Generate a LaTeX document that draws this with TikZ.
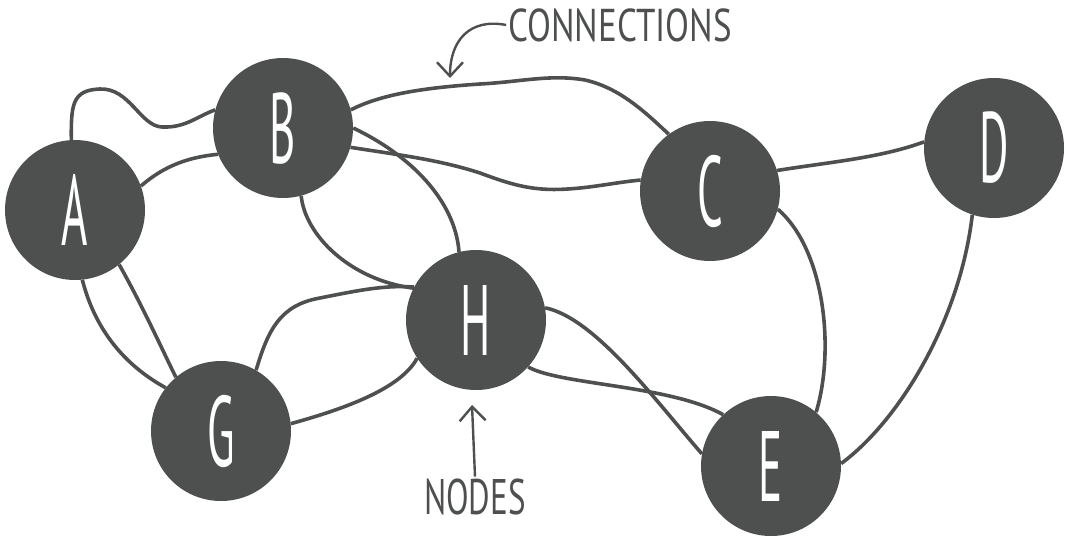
\documentclass[tikz,border=0pt]{standalone}
\usepackage{fontspec}
\setmainfont{PT Sans}
\usepackage{tikz}
\usetikzlibrary{arrows.meta}
\definecolor{NetGray}{RGB}{78, 80, 79}

\begin{document}
\begin{tikzpicture}[x=1pt, y=-1pt,
    netnode/.style={circle, fill=NetGray, minimum size=140pt, inner sep=0pt,
        text=white, font=\fontsize{100}{100}\selectfont},
    link/.style={NetGray, line width=3.6pt},
    note/.style={text=NetGray, inner sep=2pt},
    pointer/.style={NetGray, line width=2.4pt, -{Straight Barb[length=14pt, width=26pt, line width=2.4pt]}}]
        \useasboundingbox (0,0) rectangle (1066,538);

        % Nodes
        \foreach \n/\x/\y in {A/75/210, B/283/128, C/710/191, D/994/148,
                              H/476/320, G/221/431, E/771/466}
            \node[netnode] (\n) at (\x,\y) {\scalebox{0.45}[1]{\n}};

        % Connections
        \draw[link] (A.93) .. controls (71,105) and (72,90) .. (100,89)
            .. controls (130,88) and (140,126) .. (162,127)
            .. controls (185,128) and (196,117) .. (B.165);
        \draw[link] (A.20) .. controls (165,165) and (190,157) .. (B.202);
        \draw[link] (A.-84) .. controls (92,318) and (115,360) .. (G.142);
        \draw[link] (A.-51) .. controls (142,305) and (160,345) .. (G.130);
        \draw[link] (B.15) .. controls (380,95) and (420,88) .. (480,84)
            .. controls (520,82) and (550,74) .. (585,80)
            .. controls (620,88) and (645,112) .. (C.126);
        \draw[link] (B.-16) .. controls (400,155) and (440,160) .. (480,173)
            .. controls (520,188) and (540,192) .. (580,188)
            .. controls (600,186) and (620,182) .. (C.171);
        \draw[link] (B.0) .. controls (410,155) and (455,200) .. (H.104);
        \draw[link] (B.-75) .. controls (305,235) and (350,280) .. (H.153);
        \draw[link] (G.60) .. controls (268,330) and (280,305) .. (320,298)
            .. controls (360,290) and (385,285) .. (H.152);
        \draw[link] (G.6) .. controls (340,410) and (400,390) .. (H.213);
        \draw[link] (H.10) .. controls (595,318) and (655,400) .. (E.170);
        \draw[link] (H.-42) .. controls (560,385) and (670,385) .. (E.133);
        \draw[link] (C.17) .. controls (830,162) and (880,158) .. (D.175);
        \draw[link] (C.-15) .. controls (825,250) and (835,350) .. (E.50);
        \draw[link] (D.-108) .. controls (960,320) and (900,420) .. (E.2);

        % Labels
        \node[note, font=\fontsize{46}{46}\selectfont] (conn) at (620,25) {\scalebox{0.76}[1]{CONNECTIONS}};
        \node[note, font=\fontsize{50}{50}\selectfont] (nodelbl) at (475,497) {\scalebox{0.66}[1]{NODES}};
        \coordinate (connTip) at (450,78);
        \coordinate (nodeTip) at (472,405);
        \draw[pointer] (conn.west) .. controls (470,18) and (450,40) .. (connTip);
        \draw[pointer] (nodelbl.north) -- (nodeTip);
    \end{tikzpicture}
\end{document}
